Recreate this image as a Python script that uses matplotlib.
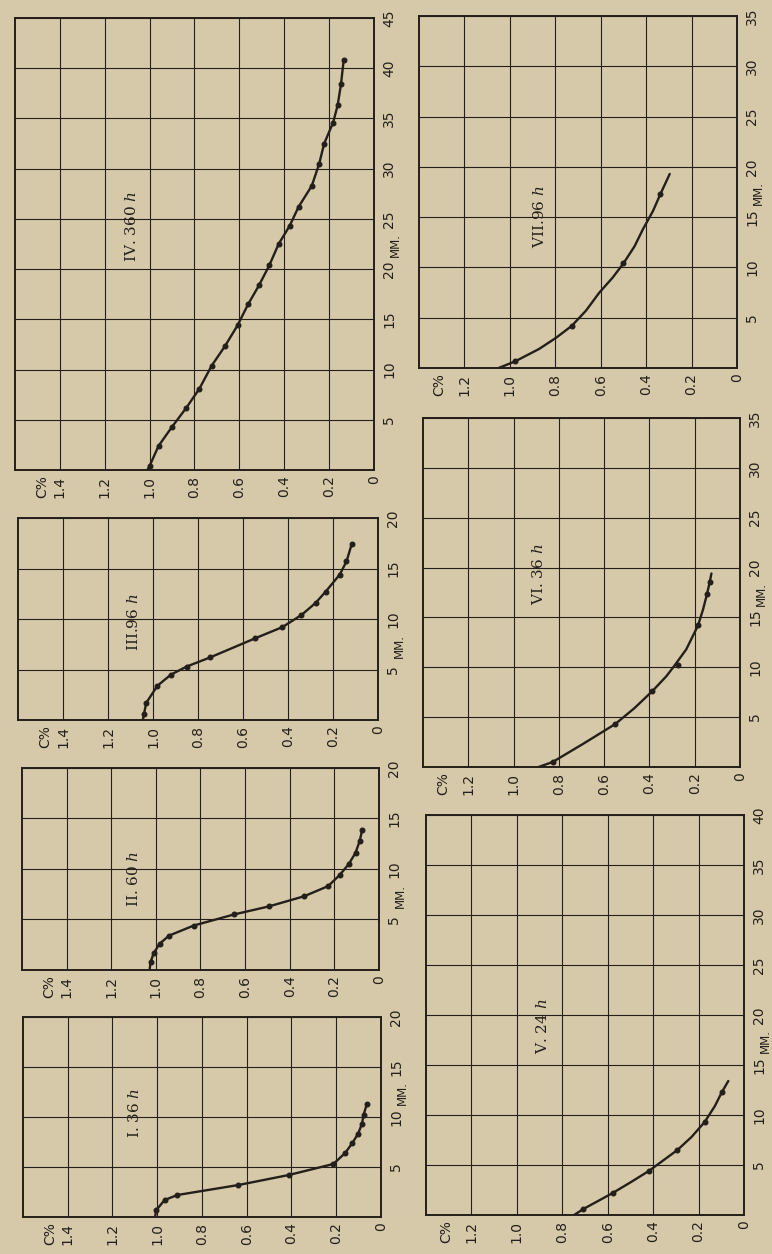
import matplotlib.pyplot as plt

plt.rcParams["font.family"] = ["DejaVu Sans"]
plt.rcParams["mathtext.fontset"] = "dejavuserif"

PAPER = "#d6c9aa"
INK = "#241f1a"

# --- data: distance (mm) against carbon (C%) ---
# I. 36 h
i_mm = [0.7, 1.7, 2.2, 3.2, 4.2, 5.3, 6.4, 7.4, 8.3, 9.3, 10.2, 11.3]
i_c = [1.004, 0.967, 0.91, 0.637, 0.412, 0.213, 0.16, 0.128, 0.103, 0.085, 0.078, 0.063]
i_line_mm = [0.0] + i_mm
i_line_c = [1.01] + i_c

# II. 60 h
ii_mm = [0.76, 1.65, 2.6, 3.4, 4.4, 5.5, 6.3, 7.3, 8.3, 9.4, 10.5, 11.6, 12.8, 13.9]
ii_c = [1.024, 1.01, 0.983, 0.941, 0.83, 0.649, 0.492, 0.335, 0.228, 0.176, 0.135, 0.105, 0.086, 0.075]
ii_line_mm = [0.0] + ii_mm
ii_line_c = [1.028] + ii_c

# III. 96 h
iii_mm = [0.6, 1.7, 3.4, 4.5, 5.3, 6.2, 8.1, 9.2, 10.4, 11.6, 12.7, 14.4, 15.7, 17.4]
iii_c = [1.04, 1.03, 0.98, 0.92, 0.85, 0.746, 0.545, 0.425, 0.34, 0.277, 0.233, 0.17, 0.14, 0.117]
iii_line_mm = [0.0] + iii_mm
iii_line_c = [1.045] + iii_c

# IV. 360 h
iv_mm = [0.4, 2.4, 4.3, 6.2, 8.1, 10.4, 12.3, 14.4, 16.5, 18.4, 20.4,
         22.5, 24.3, 26.2, 28.3, 30.5, 32.5, 34.6, 36.3, 38.4, 40.8]
iv_c = [1.0, 0.96, 0.9, 0.836, 0.778, 0.723, 0.665, 0.608, 0.561, 0.512, 0.466,
        0.425, 0.376, 0.336, 0.277, 0.244, 0.222, 0.182, 0.162, 0.147, 0.135]
iv_line_mm = [0.0] + iv_mm
iv_line_c = [1.01] + iv_c

# V. 24 h
v_mm = [0.6, 2.2, 4.4, 6.5, 9.3, 12.3]
v_c = [0.707, 0.578, 0.419, 0.293, 0.173, 0.097]
v_line_mm = [0.0, 0.6, 2.2, 3.3, 4.4, 5.5, 6.5, 7.8, 9.3, 10.9, 12.3, 13.4]
v_line_c = [0.748, 0.707, 0.578, 0.497, 0.419, 0.353, 0.293, 0.231, 0.173, 0.128, 0.097, 0.069]

# VI. 36 h
vi_mm = [0.5, 4.3, 7.6, 10.2, 14.2, 17.3, 18.5]
vi_c = [0.827, 0.551, 0.387, 0.274, 0.185, 0.146, 0.134]
vi_line_mm = [0.0, 0.5, 2.3, 4.3, 5.9, 7.6, 9.1, 10.2, 11.8, 14.2, 15.8, 17.3, 18.5, 19.4]
vi_line_c = [0.889, 0.827, 0.694, 0.551, 0.466, 0.387, 0.325, 0.288, 0.237, 0.185, 0.163, 0.146, 0.134, 0.126]

# VII. 96 h
vii_mm = [0.66, 4.2, 10.4, 17.3]
vii_c = [0.977, 0.727, 0.50, 0.337]
vii_line_mm = [0.0, 0.66, 1.9, 3.0, 4.2, 5.7, 7.5, 9.0, 10.4, 12.1, 13.8, 15.6, 17.3, 19.3]
vii_line_c = [1.05, 0.977, 0.871, 0.797, 0.727, 0.665, 0.606, 0.547, 0.50, 0.451, 0.414, 0.37, 0.337, 0.296]

# plate: (title, marks, line, max mm, MM. label between ticks, title position)
plates = [
    ("I. 36 $h$", (i_mm, i_c), (i_line_mm, i_line_c), 20, 12.5, (1.10, 10.4)),
    ("II. 60 $h$", (ii_mm, ii_c), (ii_line_mm, ii_line_c), 20, 7.5, (1.10, 9.0)),
    ("III.96 $h$", (iii_mm, iii_c), (iii_line_mm, iii_line_c), 20, 7.5, (1.085, 9.7)),
    ("IV. 360 $h$", (iv_mm, iv_c), (iv_line_mm, iv_line_c), 45, 22.5, (1.08, 24.3)),
    ("V. 24 $h$", (v_mm, v_c), (v_line_mm, v_line_c), 40, 17.5, (0.885, 18.9)),
    ("VI. 36 $h$", (vi_mm, vi_c), (vi_line_mm, vi_line_c), 35, 17.5, (0.89, 19.3)),
    ("VII.96 $h$", (vii_mm, vii_c), (vii_line_mm, vii_line_c), 35, 17.5, (0.87, 15.1)),
]

# axes rectangles in figure fractions, C% span of each plate, where "C%" sits
rects = [
    [0.0298, 0.0295, 0.4637, 0.1595],
    [0.0285, 0.2265, 0.4624, 0.1611],
    [0.0233, 0.4258, 0.4663, 0.1611],
    [0.0194, 0.6252, 0.4650, 0.3604],
    [0.5518, 0.0311, 0.4119, 0.3190],
    [0.5479, 0.3884, 0.4106, 0.2783],
    [0.5427, 0.7065, 0.4119, 0.2807],
]
c_span = [1.6, 1.6, 1.6, 1.6, 1.4, 1.4, 1.4]
c_head = [1.48, 1.48, 1.48, 1.48, 1.31, 1.31, 1.31]

fig = plt.figure(figsize=(7.72, 12.54), dpi=100, facecolor=PAPER)

for (title, marks, line, mmax, mm_lab, tpos), rect, cmax, chead in zip(plates, rects, c_span, c_head):
    ax = fig.add_axes(rect, facecolor=PAPER)
    ax.plot(line[1], line[0], color=INK, lw=1.7, solid_capstyle="round",
            solid_joinstyle="round", zorder=3)
    ax.plot(marks[1], marks[0], "o", color=INK, ms=3.3, zorder=4)

    ax.set_xlim(cmax, 0)
    ax.set_ylim(0, mmax)

    cticks = [round(0.2 * k, 1) for k in range(int(round(cmax / 0.2)))]
    ax.set_xticks(cticks)
    ax.set_xticklabels(["0" if t == 0 else f"{t:.1f}" for t in cticks])
    mticks = list(range(0, mmax + 1, 5))
    ax.set_yticks(mticks)
    ax.set_yticklabels([""] + [str(t) for t in mticks[1:]])

    ax.yaxis.tick_right()
    ax.tick_params(axis="both", length=0, labelsize=10, colors=INK)
    ax.tick_params(axis="x", labelrotation=90, pad=4)
    ax.tick_params(axis="y", labelrotation=90, pad=6)
    for lbl in ax.get_yticklabels():
        lbl.set_va("center")

    ax.grid(True, color=INK, lw=0.8)
    ax.set_axisbelow(True)
    for sp in ax.spines.values():
        sp.set_color(INK)
        sp.set_linewidth(1.4)

    # C% heading sits with the tick labels, beyond the top tick
    ax.annotate("C%", xy=(chead, 0), xycoords=("data", "axes fraction"),
                xytext=(0, -4), textcoords="offset points", rotation=90,
                ha="center", va="top", fontsize=10, color=INK)
    # MM. label between two millimetre ticks
    ax.annotate("MM.", xy=(1, mm_lab), xycoords=("axes fraction", "data"),
                xytext=(15.5, -1), textcoords="offset points", rotation=90,
                ha="center", va="center", fontsize=8.5, color=INK)

    ax.text(tpos[0], tpos[1], title, rotation=90, ha="center", va="center",
            family="DejaVu Serif", fontsize=11, color=INK)

fig.savefig("out.png", dpi=100, facecolor=PAPER)
